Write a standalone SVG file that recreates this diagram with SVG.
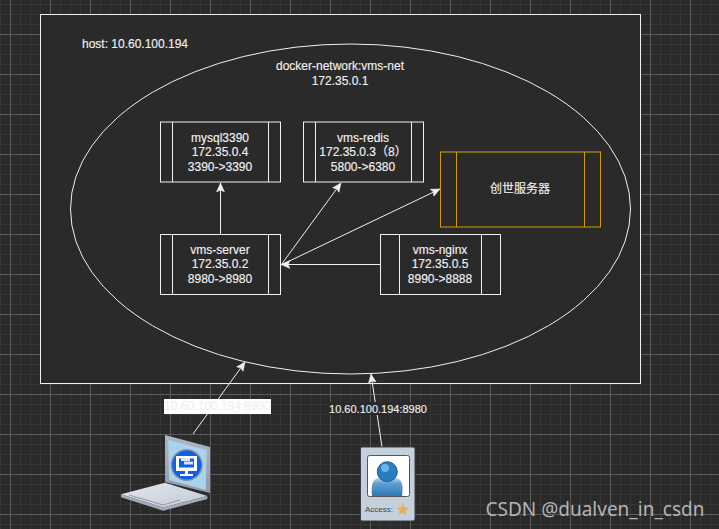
<svg xmlns="http://www.w3.org/2000/svg" width="719" height="529" viewBox="0 0 719 529">
<style>
text{font-family:"Liberation Sans","Noto Sans CJK SC",sans-serif;font-size:12px;fill:#f0f0f0;stroke:#f0f0f0;stroke-width:.15;text-anchor:middle}
.n{fill:#2a2a2a;stroke:#f0f0f0;stroke-width:1}
.g{fill:#2a2a2a;stroke:#d79b00;stroke-width:1}
.gl{fill:none;stroke:#d79b00;stroke-width:1}
.l{fill:none;stroke:#f0f0f0;stroke-width:1}
.c{fill:none;stroke:#f0f0f0;stroke-width:1;marker-end:url(#a)}
</style>
<defs>
<marker id="a" markerUnits="userSpaceOnUse" markerWidth="9" markerHeight="9" refX="9" refY="4.5" orient="auto" viewBox="0 0 9 9">
<path d="M0 .5L9 4.5L0 8.500L2 4.500Z" fill="#f0f0f0" stroke="#f0f0f0" stroke-width=".5"/>
</marker>
<pattern id="grid" patternUnits="userSpaceOnUse" x="10" y="-6" width="40" height="40">
<path d="M10.5 0V40M20.5 0V40M30.5 0V40M0 10.5H40M0 20.5H40M0 30.5H40" stroke="#363636" fill="none"/>
<path d="M.5 0V40M0 .5H40" stroke="#5a5a5a" fill="none"/>
</pattern>
<linearGradient id="sc" x1="0" y1="0" x2="0" y2="1"><stop offset="0" stop-color="#aeb8c4"/><stop offset="1" stop-color="#8f99a8"/></linearGradient>
<linearGradient id="bs" x1="0" y1="0" x2="1" y2="1"><stop offset="0" stop-color="#e4e7ee"/><stop offset="1" stop-color="#c4c9d6"/></linearGradient>
<linearGradient id="bd" x1="0" y1="0" x2="0" y2="1"><stop offset="0" stop-color="#b9d5ec"/><stop offset=".3" stop-color="#5f9fd0"/><stop offset="1" stop-color="#2e78b4"/></linearGradient>
</defs>
<rect width="719" height="529" fill="#2a2a2a"/>
<rect width="719" height="529" fill="url(#grid)"/>
<g id="host">
<rect x="40.5" y="14.5" width="600" height="369" fill="#2a2a2a" stroke="#f0f0f0"/>
<text x="135" y="48">host: 10.60.100.194</text>
</g>
<g id="network">
<ellipse cx="350.5" cy="209" rx="280" ry="165" fill="#2a2a2a" stroke="#f0f0f0"/>
<text x="340" y="70">docker-network:vms-net</text>
<text x="340" y="85">172.35.0.1</text>
</g>
<g id="mysql">
<rect class="n" x="160.5" y="122" width="120" height="60"/>
<path class="l" d="M172.5 122V182M268.5 122V182"/>
<text x="220" y="142">mysql3390</text><text x="220" y="156">172.35.0.4</text><text x="220" y="171">3390-&gt;3390</text>
</g>
<g id="redis">
<rect class="n" x="303.5" y="122" width="120" height="60"/>
<path class="l" d="M315.5 122V182M411.5 122V182"/>
<text x="363" y="142">vms-redis</text><text x="363" y="156">172.35.0.3（8）</text><text x="363" y="171">5800-&gt;6380</text>
</g>
<g id="server">
<rect class="n" x="160.5" y="234.5" width="120" height="60"/>
<path class="l" d="M172.5 234.5V294.5M268.5 234.5V294.5"/>
<text x="220" y="254">vms-server</text><text x="220" y="268">172.35.0.2</text><text x="220" y="283">8980-&gt;8980</text>
</g>
<g id="nginx">
<rect class="n" x="380.5" y="234.5" width="120" height="60"/>
<path class="l" d="M399.5 234.5V294.5M481.5 234.5V294.5"/>
<text x="440" y="254">vms-nginx</text><text x="440" y="268">172.35.0.5</text><text x="440" y="283">8990-&gt;8888</text>
</g>
<g id="chuangshi">
<rect class="g" x="440.5" y="152" width="160" height="75"/>
<path class="gl" d="M456.5 152V227M584.5 152V227"/>
<text x="520" y="193">创世服务器</text>
</g>
<g id="connectors">
<path class="c" d="M220.5 234V183"/>
<path class="c" d="M281 265L341 183"/>
<path class="c" d="M281 265L440 189"/>
<path class="c" d="M380 264.5H281"/>
<path class="c" d="M193 434L245 362"/>
<path class="c" d="M382 447L371 374"/>
<rect x="164" y="399" width="107" height="15" fill="#fff"/>
<text x="217.500" y="410">10.60.100.194:8990</text>
<rect x="329" y="402" width="98" height="13" fill="#2a2a2a"/>
<text x="378" y="413" style="font-size:11px">10.60.100.194:8980</text>
</g>
<g id="laptop">
<path d="M165 435L210 447V493L165 482Z" fill="url(#sc)"/>
<path d="M168.300 440L206.700 450L205.700 490L169 480Z" fill="#a9d3ec"/>
<circle cx="186.700" cy="465" r="16" fill="#8a8f9a"/>
<circle cx="186.700" cy="465" r="14.500" fill="#0f5fe8"/>
<rect x="176" y="456" width="21" height="15" fill="#fff"/>
<rect x="179" y="458.500" width="15" height="9" fill="#0f5fe8"/>
<rect x="181" y="458" width="9" height="3" fill="#d8e4f5"/>
<rect x="184" y="461.500" width="9" height="3" fill="#d8e4f5"/>
<path d="M185 471H188V474H193V476H180V474H185Z" fill="#fff"/>
<path d="M121 494.300L165 482.700L207.300 496L163.300 507.500Z" fill="url(#bs)"/>
<path d="M121 494.300V497.300L163.300 510.700L207.300 499V496L163.300 507.500Z" fill="#a3aab8"/>
<path d="M129 495L163 505L180 500" stroke="#8f96a5" fill="none"/>
</g>
<g id="access">
<rect x="360.500" y="447" width="54.500" height="74" rx="2" fill="#c5d0dc" stroke="#3a3f45"/>
<rect x="367.500" y="455.500" width="42" height="41" rx="2" fill="#fff" stroke="#555"/>
<path d="M372 496C371 486 372 480 378 478H397C403 480 403 488 402 496Z" fill="url(#bd)"/>
<circle cx="387.300" cy="471.700" r="10" fill="#2a7cc0" stroke="#1d5d92"/>
<circle cx="385" cy="468" r="4" fill="#6cb3e6"/>
<text x="379" y="512" style="font-size:8px;fill:#444;stroke:none">Access:</text>
<path d="M402.700 503L404.500 507.300L409 507.700L405.600 510.600L406.700 515L402.700 512.700L398.700 515L399.800 510.600L396.400 507.700L400.900 507.300Z" fill="#e8ae5c"/>
</g>
<text x="595" y="516" style="font-family:'Noto Sans',sans-serif;font-size:19px;fill:#b4b4b4;stroke:none">CSDN @dualven_in_csdn</text>
</svg>
